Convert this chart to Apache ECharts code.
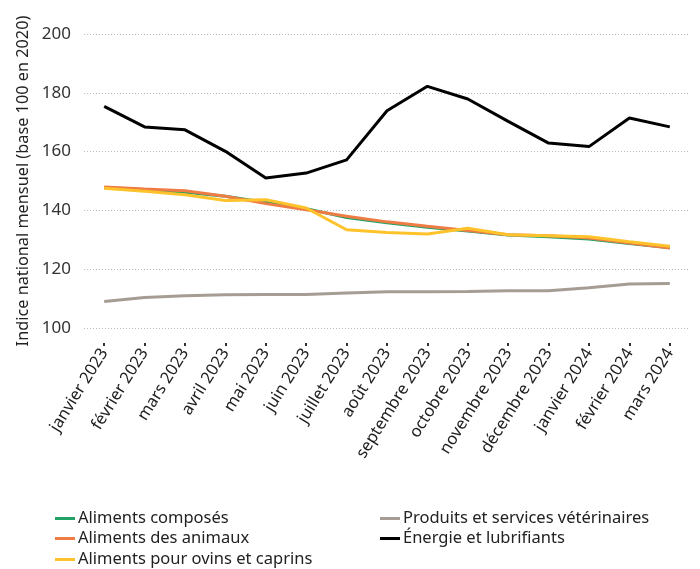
<!DOCTYPE html>
<html><head><meta charset="utf-8">
<script src="https://cdn.jsdelivr.net/npm/echarts@6/dist/echarts.min.js"></script>
<style>html,body{margin:0;padding:0;background:#fff}#c{width:700px;height:569px}</style>
</head><body><div id="c"></div>
<script>
var categories = ["janvier 2023","février 2023","mars 2023","avril 2023","mai 2023","juin 2023","juillet 2023","août 2023","septembre 2023","octobre 2023","novembre 2023","décembre 2023","janvier 2024","février 2024","mars 2024"];
var yTicks = [100, 120, 140, 160, 180, 200];
var composes = [147.8,147.0,146.2,144.8,142.7,140.6,137.6,135.8,134.3,133.0,131.6,131.0,130.3,128.7,127.3];
var animaux  = [148.0,147.3,146.7,144.8,142.3,140.2,138.0,136.1,134.6,133.2,131.7,131.4,130.6,128.9,127.2];
var ovins    = [147.5,146.5,145.3,143.4,143.6,140.8,133.4,132.5,132.0,133.9,131.7,131.4,131.0,129.3,127.8];
var veto     = [109.0,110.4,111.0,111.3,111.4,111.4,111.9,112.3,112.3,112.4,112.7,112.7,113.7,115.0,115.1];
var energie  = [175.4,168.4,167.4,160.1,151.0,152.7,157.2,173.9,182.2,177.9,170.3,162.9,161.7,171.4,168.4];
var seriesNames = ["Aliments composés","Aliments des animaux","Aliments pour ovins et caprins","Produits et services vétérinaires","Énergie et lubrifiants"];

var FONT = "Noto Sans";
function line(name, data, color, w, z) {
  return {name: name, type: 'line', data: data, symbol: 'none', z: z,
    lineStyle: {color: color, width: w}, itemStyle: {color: color}};
}
function leg(name, left, top) {
  return {data: [{name: name, icon: 'rect'}], left: left, top: top, itemWidth: 20, itemHeight: 3, padding: 0,
    textStyle: {fontFamily: FONT, fontSize: 16.5, color: '#222', padding: [0, 0, 0, -2]}};
}
var chart = echarts.init(document.getElementById('c'));
chart.setOption({
  animation: false,
  textStyle: {fontFamily: FONT},
  grid: {left: 84, right: 10, top: 34, bottom: 241},
  legend: [
    leg(seriesNames[0], 55, 510),
    leg(seriesNames[1], 55, 530),
    leg(seriesNames[2], 55, 551),
    leg(seriesNames[3], 380, 510),
    leg(seriesNames[4], 380, 530)
  ],
  xAxis: {type: 'category', data: categories, boundaryGap: true,
    axisLine: {show: false},
    axisTick: {show: true, alignWithLabel: true, length: 3, lineStyle: {color: '#333', width: 2}},
    offset: 15,
    axisLabel: {rotate: 58, fontSize: 16.5, color: '#222', margin: 7, fontFamily: FONT}},
  yAxis: {type: 'value', min: 100, max: 200, interval: 20,
    name: 'Indice national mensuel (base 100 en 2020)', nameLocation: 'middle', nameGap: 51,
    nameTextStyle: {fontSize: 16.3, color: '#222', fontFamily: FONT},
    axisLine: {show: false}, axisTick: {show: false},
    axisLabel: {fontSize: 17, color: '#333', margin: 13, fontFamily: FONT,
      formatter: function(v){ return yTicks.indexOf(v) >= 0 ? String(v) : ''; }},
    splitLine: {lineStyle: {color: '#bbb', type: [1, 2], width: 1}}},
  series: [
    line(seriesNames[0], composes, '#21a366', 3, 2),
    line(seriesNames[1], animaux, '#f07c45', 3, 3),
    line(seriesNames[2], ovins, '#fec22a', 3, 4),
    line(seriesNames[3], veto, '#a59d93', 3, 1),
    line(seriesNames[4], energie, '#000000', 3, 5)
  ]
});
</script></body></html>
